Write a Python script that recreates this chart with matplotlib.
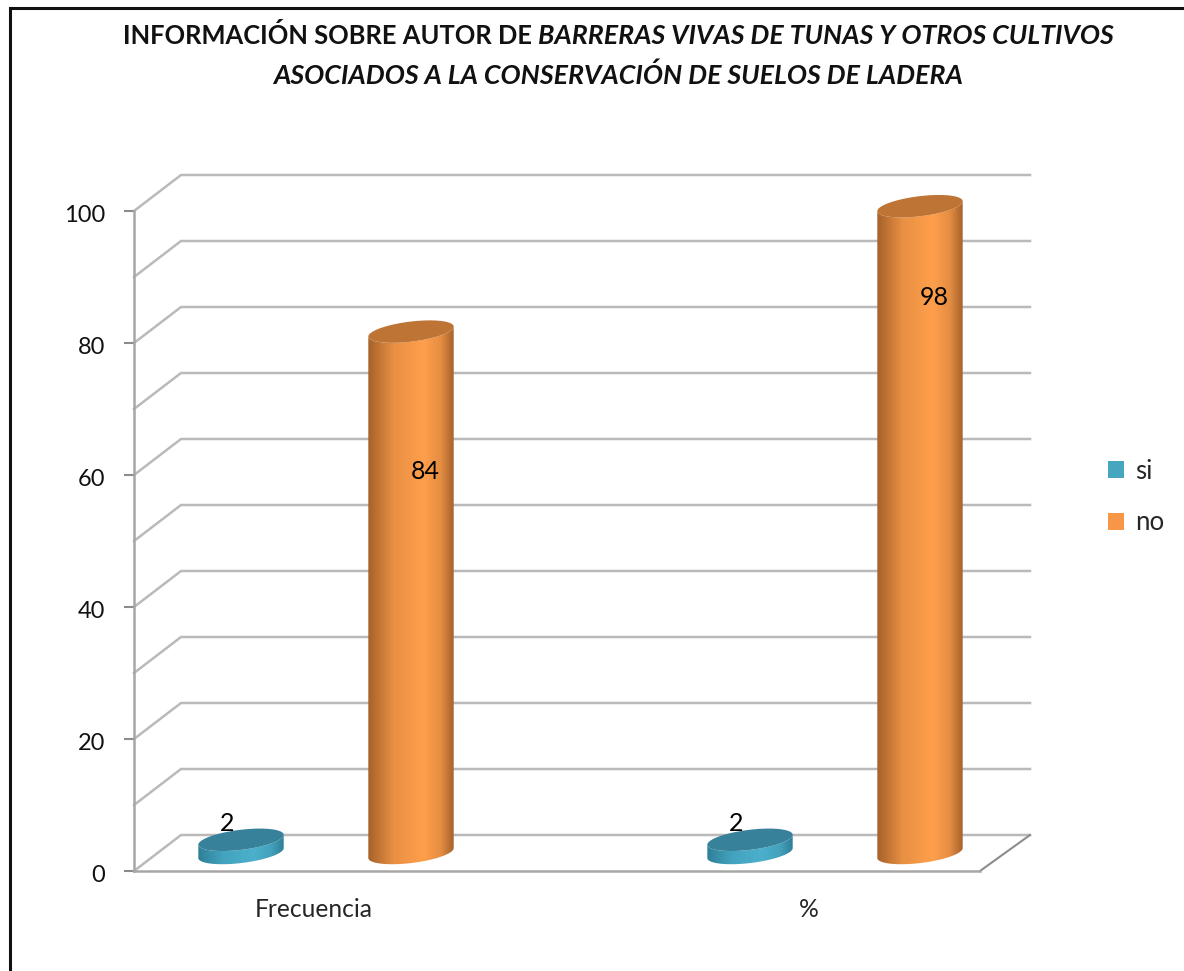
import numpy as np
import matplotlib
matplotlib.use('Agg')
import matplotlib.pyplot as plt
from matplotlib.colors import to_rgb
from matplotlib.lines import Line2D
from matplotlib.patches import Patch, Polygon
from matplotlib.transforms import ScaledTranslation

plt.rcParams['font.family'] = ['Lato', 'DejaVu Sans']

# Chart values
categories = ['Frecuencia', '%']
series_names = ['si', 'no']
si_labels = [2, 2]
no_labels = [84, 98]
# the 84 column is drawn shorter than its label in the source picture
si_heights = [2, 2]
no_heights = [79, 98]
y_ticks = [0, 20, 40, 60, 80, 100]
title_line1 = [('INFORMACIÓN SOBRE AUTOR DE', 'normal'),
               ('BARRERAS VIVAS DE TUNAS Y OTROS CULTIVOS', 'italic')]
title_line2 = [('ASOCIADOS A LA CONSERVACIÓN DE SUELOS DE LADERA', 'italic')]

W, H = 1184, 971
LEFT, RIGHT, TOP, BOTTOM = 134, 980, 211, 871   # front plane in pixels
CAT0_PX, CAT_STEP_PX = 326, 509
PX_X = 1 / CAT_STEP_PX
PX_Y = 100 / (BOTTOM - TOP)
DEPTH_X, DEPTH_Y = 47 * PX_X, 36 * PX_Y
BACK_END_X = 50 * PX_X
BAR_OFFSET = 85 * PX_X
FLOOR = 18 * PX_Y
GRID = '#BABABA'
TEAL = ('#2F7F98', '#4BB0CC', '#37829A')
ORANGE = ('#A5622A', '#FF9F4C', '#BD7434')

fig = plt.figure(figsize=(W / 100, H / 100), dpi=100, facecolor='white')
ax = fig.add_axes([LEFT / W, 1 - BOTTOM / H, (RIGHT - LEFT) / W, (BOTTOM - TOP) / H])
ax.set_facecolor('none')
xlim = ((LEFT - CAT0_PX) * PX_X, (RIGHT - CAT0_PX) * PX_X)


def ellipse(cx, cy):
    # tilted ellipse, same size for every column
    t = np.linspace(0, 2 * np.pi, 121)[:-1]
    a, b, tilt = 43.0, 10.0, np.radians(7)
    dx = a * np.cos(t) * np.cos(tilt) - b * np.sin(t) * np.sin(tilt)
    dy = a * np.cos(t) * np.sin(tilt) + b * np.sin(t) * np.cos(tilt)
    return np.column_stack([cx + dx * PX_X, cy + dy * PX_Y])


def shade(dark, light):
    d, l = np.array(to_rgb(dark)), np.array(to_rgb(light))
    stops = np.interp(np.linspace(0, 1, 200), [0, 0.3, 0.65, 0.85, 1], [0, 0.75, 1, 0.7, 0])
    return (d + (l - d) * stops[:, None])[None, :, :]


def cylinder(x, value, colors):
    dark, light, top_color = colors
    top = ellipse(x, FLOOR + value)
    base = ellipse(x, FLOOR)
    i_right = np.argmax(base[:, 0])
    i_left = np.argmin(base[:, 0])
    # lower arc of each ellipse, going left to right and back
    order = [(i_left + k) % len(base) for k in range((i_right - i_left) % len(base) + 1)]
    body = np.vstack([base[order], top[order][::-1]])
    patch = Polygon(body, closed=True, facecolor='none', edgecolor='none', zorder=3, clip_on=False)
    ax.add_patch(patch)
    img = ax.imshow(shade(dark, light), aspect='auto', zorder=3,
                    extent=(base[i_left, 0], base[i_right, 0], 0, FLOOR + value + 5))
    # the tallest column runs past the top of the axes
    img.set_clip_box(fig.bbox)
    img.set_clip_path(patch)
    ax.add_patch(Polygon(top, closed=True, facecolor=top_color, edgecolor='none',
                         zorder=4, clip_on=False))


# walls and floor
for level in np.arange(0, 101, 10):
    ax.plot([xlim[0], xlim[0] + DEPTH_X, xlim[1] + BACK_END_X],
            [level, level + DEPTH_Y, level + DEPTH_Y],
            color=GRID, lw=1.8, clip_on=False, zorder=1, solid_joinstyle='miter')
ax.plot([xlim[1], xlim[1] + BACK_END_X], [0, DEPTH_Y], color='#8C8C8C', lw=1.5, clip_on=False, zorder=1)

for i, x in enumerate(range(len(categories))):
    cylinder(x - BAR_OFFSET, si_heights[i], TEAL)
    cylinder(x + BAR_OFFSET, no_heights[i], ORANGE)
    ax.annotate(si_labels[i], (x - BAR_OFFSET, FLOOR + si_heights[i]), xytext=(-10, 12),
                textcoords='offset points', ha='center', va='center', fontsize=18, zorder=5,
                annotation_clip=False)
    down = [-101, -66][i]
    ax.annotate(no_labels[i], (x + BAR_OFFSET, FLOOR + no_heights[i]), xytext=(10, down),
                textcoords='offset points', ha='center', va='center', fontsize=18, zorder=5,
                annotation_clip=False)
    ax.annotate(categories[i], (x, 0), xytext=[(-9, -27.5), (-18.5, -27.5)][i],
                textcoords='offset points', ha='center', va='center',
                fontsize=17.7, color='#262626', annotation_clip=False)

ax.set_xlim(xlim)
ax.set_ylim(0, 100)
ax.set_xticks([])
ax.set_yticks(y_ticks)
ax.tick_params(axis='y', length=7, width=1.5, color='#8C8C8C', labelsize=17, pad=14, labelcolor='#111111')
for label in ax.get_yticklabels():
    label.set_transform(label.get_transform() + ScaledTranslation(0, -2 / 100, fig.dpi_scale_trans))
for side in ['top', 'right']:
    ax.spines[side].set_visible(False)
for side in ['left', 'bottom']:
    ax.spines[side].set_color('#A6A6A6')
    ax.spines[side].set_linewidth(1.8)

handles = [Patch(facecolor='#46A5BF'), Patch(facecolor='#F79646')]
fig.legend(handles, series_names, loc='center left', bbox_to_anchor=(1085 / W, 1 - 497 / H),
           frameon=False, fontsize=18.5, handlelength=0.62, handleheight=0.62,
           handletextpad=0.42, labelspacing=1.03, labelcolor='#262626')


def title_row(runs, y_px):
    # bold upright and bold italic runs, centred together
    renderer = fig.canvas.get_renderer()
    sizes = {'normal': 18.4, 'italic': 19.3}
    items = [fig.text(0, 1 - y_px / H, s, fontsize=sizes[style], fontweight='bold', fontstyle=style,
                      va='center', ha='left', color='#111111') for s, style in runs]
    widths = [it.get_window_extent(renderer).width for it in items]
    gap = 6
    x = 618 - (sum(widths) + gap * (len(items) - 1)) / 2
    for it, w in zip(items, widths):
        it.set_x(x / W)
        x += w + gap


title_row(title_line1, 36)
title_row(title_line2, 75)

# outer frame of the pasted chart
frame = [[10, 10, W], [H, 8, 8]]
fig.add_artist(Line2D([p / W for p in frame[0]], [1 - p / H for p in frame[1]],
                      color='#111111', lw=2.2, solid_joinstyle='miter'))

fig.savefig('out.png', dpi=100)
